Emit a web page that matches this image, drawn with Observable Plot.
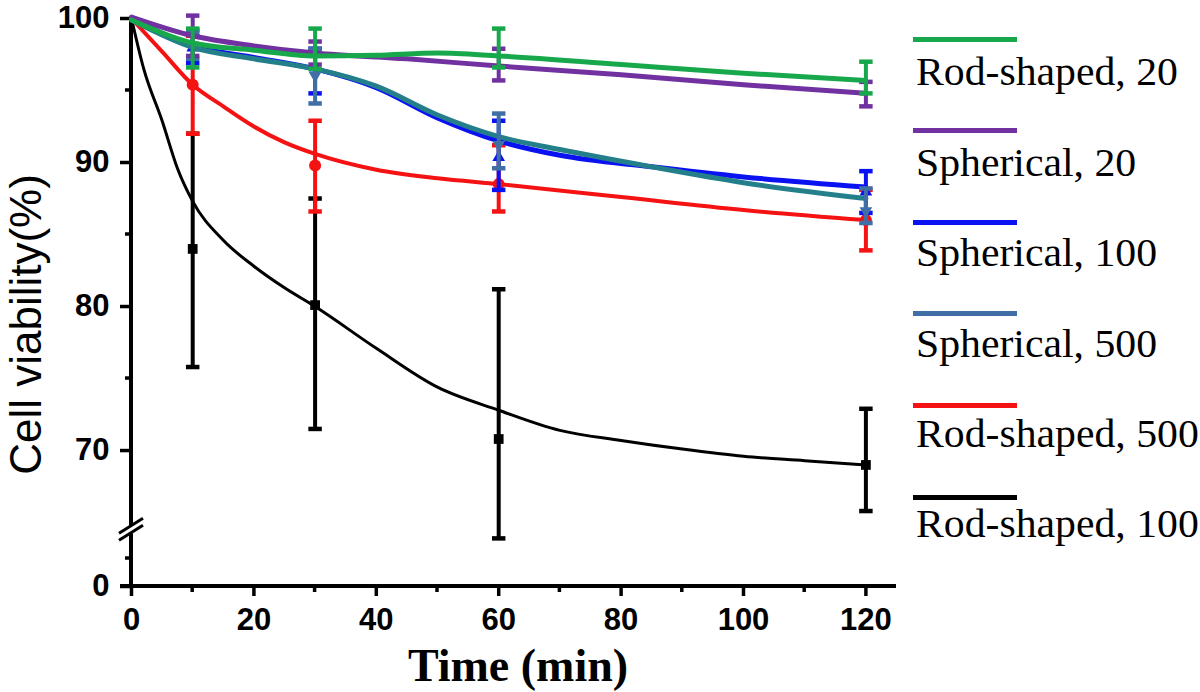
<!DOCTYPE html>
<html>
<head>
<meta charset="utf-8">
<script src="https://cdn.jsdelivr.net/npm/d3@7"></script>
<script src="https://cdn.jsdelivr.net/npm/@observablehq/plot@0.6"></script>
<style>
  html, body { margin: 0; padding: 0; background: #fff; }
  #wrap { position: relative; width: 1200px; height: 692px; overflow: hidden; background: #fff; }
  #chart { position: absolute; left: 0; top: 0; }
  .lg-line { position: absolute; height: 5px; width: 104px; }
  .lg-text { position: absolute; font-family: "Liberation Serif", "Times New Roman", serif; font-size: 39px; line-height: 39px; color: #000; white-space: nowrap; transform: scaleX(1.07); transform-origin: 0 0; }
  #chart svg [aria-label^="x-axis"] line, #chart svg [aria-label^="x-axis"] path,
  #chart svg [aria-label^="y-axis"] line, #chart svg [aria-label^="y-axis"] path { stroke-width: 3.5px; stroke: #000; }
  #chart svg [aria-label^="x-axis"] text, #chart svg [aria-label^="y-axis"] text { font-size: 31px; font-weight: bold; }
</style>
</head>
<body>
<div id="wrap"><div id="chart"></div><div id="legend"></div></div>
<script>
// ---------- data ----------
const seriesNames  = ["Rod-shaped, 20", "Spherical, 20", "Spherical, 100", "Spherical, 500", "Rod-shaped, 500", "Rod-shaped, 100"];
const seriesColors = ["#18a84c", "#7131a0", "#0b12f2", "#3f6fa4", "#f51212", "#000000"];
const lineColors   = ["#18a84c", "#7131a0", "#0b12f2", "#23808a", "#f51212", "#000000"];
const markerShapes = [null, null, "up", "down", "circle", "square"];

const pointTimes = [10, 30, 60, 120];
// mean, low end and high end of error bars (cell viability %)
const rod20Mean  = [98.0, 97.6, 97.6, 95.8];
const rod20Low   = [96.6, 96.5, 96.6, 94.8];
const rod20High  = [99.3, 99.3, 99.3, 97.0];
const sph20Mean  = [98.8, 97.6, 96.8, 94.8];
const sph20Low   = [97.4, 96.8, 95.7, 93.9];
const sph20High  = [100.2, 98.4, 97.9, 95.6];
const sph100Mean = [98.0, 96.6, 90.4, 88.0];
const sph100Low  = [96.9, 94.8, 88.1, 86.5];
const sph100High = [99.2, 97.9, 92.9, 89.4];
const sph500Mean = [98.1, 96.0, 91.2, 86.6];
const sph500Low  = [97.2, 94.1, 89.6, 85.8];
const sph500High = [99.0, 97.9, 93.4, 88.2];
const rod500Mean = [95.4, 89.8, 88.5, 86.0];
const rod500Low  = [92.0, 86.6, 86.6, 83.9];
const rod500High = [98.8, 92.9, 91.2, 88.1];
const rod100Mean = [84.0, 80.1, 70.8, 69.0];
const rod100Low  = [75.8, 71.5, 63.9, 65.8];
const rod100High = [92.0, 87.5, 81.2, 72.9];

// fitted curves
const rod20FitT  = [0, 10, 20, 30, 40, 50, 60, 80, 100, 120];
const rod20FitV  = [99.9, 98.3, 97.8, 97.4, 97.45, 97.6, 97.4, 96.8, 96.2, 95.7];
const sph20FitT  = [0, 10, 20, 30, 45, 60, 80, 100, 120];
const sph20FitV  = [100.1, 98.8, 98.1, 97.6, 97.2, 96.7, 96.1, 95.4, 94.8];
const sph100FitT = [0, 10, 20, 30, 40, 50, 60, 70, 85, 100, 120];
const sph100FitV = [100.0, 98.1, 97.3, 96.5, 95.2, 93.1, 91.5, 90.5, 89.7, 89.0, 88.3];
const sph500FitT = [0, 10, 20, 30, 40, 50, 60, 70, 85, 100, 120];
const sph500FitV = [99.9, 98.0, 97.2, 96.5, 95.3, 93.3, 91.8, 90.9, 89.7, 88.6, 87.5];
const rod500FitT = [0, 5, 10, 15, 20, 25, 30, 40, 50, 60, 80, 100, 120];
const rod500FitV = [100.0, 97.7, 95.4, 93.9, 92.5, 91.4, 90.6, 89.5, 88.9, 88.5, 87.6, 86.7, 86.0];
const rod100FitT = [0, 2, 5, 7.5, 10, 15, 20, 25, 30, 40, 50, 60, 70, 80, 90, 100, 110, 120];
const rod100FitV = [100.0, 96.5, 92.9, 89.6, 87.3, 84.6, 82.8, 81.3, 80.0, 77.1, 74.4, 72.8, 71.4, 70.7, 70.1, 69.6, 69.3, 69.0];

// axes
const xTicks = [0, 20, 40, 60, 80, 100, 120];
const xMinorTicks = [10, 30, 50, 70, 90, 110];
const yTicks = [0, 70, 80, 90, 100];
const yMinorTicks = [5, 75, 85, 95];
const xDomain = [0, 125];
const xLabel = "Time (min)";
const yLabel = "Cell viability(%)";

// broken y axis: segment 0–7 is compressed below the break, 63.5–100 is shown at full scale
const yBreakPieces  = [0, 7, 63.5, 100];
const yBreakDisplay = [60.56, 63.28, 63.5, 100];
const yBreakValue = 64.5;
const brk = d3.scaleLinear().domain(yBreakPieces).range(yBreakDisplay);
const yTickPos = yTicks.map(brk);

// ---------- assemble tables ----------
const means = [rod20Mean, sph20Mean, sph100Mean, sph500Mean, rod500Mean, rod100Mean];
const lows  = [rod20Low, sph20Low, sph100Low, sph500Low, rod500Low, rod100Low];
const highs = [rod20High, sph20High, sph100High, sph500High, rod500High, rod100High];
const fitTs = [rod20FitT, sph20FitT, sph100FitT, sph500FitT, rod500FitT, rod100FitT];
const fitVs = [rod20FitV, sph20FitV, sph100FitV, sph500FitV, rod500FitV, rod100FitV];

const pointRows = [];
seriesNames.forEach((s, i) => pointTimes.forEach((t, j) =>
  pointRows.push({series: s, t, mean: brk(means[i][j]), lo: brk(lows[i][j]), hi: brk(highs[i][j])})));
const fitRows = [];
seriesNames.forEach((s, i) => fitTs[i].forEach((t, j) => fitRows.push({series: s, t, v: brk(fitVs[i][j])})));

// ---------- symbols ----------
const triUp = {draw(ctx, size) { const r = Math.sqrt(size / Math.PI);
  ctx.moveTo(0, -r * 1.25); ctx.lineTo(r * 1.15, r * 0.75); ctx.lineTo(-r * 1.15, r * 0.75); ctx.closePath(); }};
const triDown = {draw(ctx, size) { const r = Math.sqrt(size / Math.PI);
  ctx.moveTo(0, r * 1.25); ctx.lineTo(r * 1.15, -r * 0.75); ctx.lineTo(-r * 1.15, -r * 0.75); ctx.closePath(); }};
const symbolFor = {up: triUp, down: triDown, circle: "circle", square: "square"};

// ---------- decoration marks drawn through the scales ----------
const NS = "http://www.w3.org/2000/svg";
function seg(doc, g, x1, y1, x2, y2, w, stroke) {
  const l = doc.createElementNS(NS, "line");
  l.setAttribute("x1", x1); l.setAttribute("y1", y1);
  l.setAttribute("x2", x2); l.setAttribute("y2", y2);
  l.setAttribute("stroke", stroke || "#000"); l.setAttribute("stroke-width", w);
  g.appendChild(l);
}
function axisLines(index, scales, values, dims, context) {
  const doc = (context && context.document) || document;
  const g = doc.createElementNS(NS, "g");
  const x = scales.x, y = v => scales.y(brk(v));
  seg(doc, g, x(0), y(100) - 1.5, x(0), y(0), 4);
  seg(doc, g, x(0) - 11, y(0), x(xDomain[1]), y(0), 4);
  for (const v of yMinorTicks) seg(doc, g, x(0) - 6, y(v), x(0), y(v), 3.5);
  for (const t of xMinorTicks) seg(doc, g, x(t), y(0), x(t), y(0) + 6, 3.5);
  return g;
}
function axisBreak(index, scales, values, dims, context) {
  const doc = (context && context.document) || document;
  const g = doc.createElementNS(NS, "g");
  const x0 = scales.x(0), yb = scales.y(brk(yBreakValue));
  seg(doc, g, x0, yb - 4, x0, yb + 4, 7, "#fff");
  seg(doc, g, x0 - 12, yb + 4, x0 + 12, yb - 11, 3);
  seg(doc, g, x0 - 12, yb + 11, x0 + 12, yb - 4, 3);
  return g;
}

// ---------- marks ----------
const order = [5, 4, 2, 3, 1, 0]; // draw black first, green last
const marks = [axisLines];
for (const i of order) {
  const s = seriesNames[i];
  const pts = pointRows.filter(d => d.series === s);
  const fit = fitRows.filter(d => d.series === s);
  const col = seriesColors[i];
  const w = i === 5 ? 3 : (i === 4 ? 4 : 5);
  marks.push(Plot.line(fit, {x: "t", y: "v", stroke: lineColors[i], strokeWidth: w, curve: "monotone-x"}));
  marks.push(Plot.ruleX(pts, {x: "t", y1: "lo", y2: "hi", stroke: col, strokeWidth: 4}));
  marks.push(Plot.link(pts, {x1: d => d.t - 1.1, x2: d => d.t + 1.1, y1: "lo", y2: "lo", stroke: col, strokeWidth: 4.5, strokeLinecap: "butt"}));
  marks.push(Plot.link(pts, {x1: d => d.t - 1.1, x2: d => d.t + 1.1, y1: "hi", y2: "hi", stroke: col, strokeWidth: 4.5, strokeLinecap: "butt"}));
  if (markerShapes[i]) {
    const shp = markerShapes[i];
    marks.push(Plot.dot(pts, {x: "t", y: "mean", fill: col, stroke: "none",
      symbol: symbolFor[shp], r: shp === "circle" ? 6 : 5.5}));
  }
}
marks.push(axisBreak);
marks.push(Plot.text([xLabel], {text: d => d, frameAnchor: "bottom", textAnchor: "middle", lineAnchor: "middle", dx: 4, dy: 80,
  fontSize: 46, fontWeight: "bold", fontFamily: '"Liberation Serif", "Times New Roman", serif', fill: "#000"}));
marks.push(Plot.text([yLabel], {text: d => d, frameAnchor: "left", textAnchor: "middle", lineAnchor: "middle", rotate: -90, dx: -105, dy: 22,
  fontSize: 44, fontWeight: "normal", fontFamily: '"Liberation Sans", Arial, sans-serif', fill: "#000"}));

const plot = Plot.plot({
  width: 905, height: 692,
  marginLeft: 131, marginRight: 9, marginTop: 18, marginBottom: 106,
  style: {fontFamily: '"Liberation Sans", Arial, sans-serif', fontSize: "31px", fontWeight: "bold",
          color: "#000", background: "transparent", overflow: "visible"},
  x: {domain: xDomain, ticks: xTicks, tickSize: 10, tickPadding: 11, label: null, tickFormat: d => String(d)},
  y: {domain: [yBreakDisplay[0], 100], ticks: yTickPos, tickSize: 11, tickPadding: 11, label: null,
      tickFormat: u => { const k = yTickPos.findIndex(p => Math.abs(p - u) < 1e-6); return k < 0 ? "" : String(yTicks[k]); }},
  marks
});
document.getElementById("chart").appendChild(plot);

// ---------- legend (right side) ----------
const legend = document.getElementById("legend");
seriesNames.forEach((s, i) => {
  const lineY = 39 + i * 91.6;
  const baseY = 85 + i * 90.4;
  const ln = document.createElement("div");
  ln.className = "lg-line";
  ln.style.left = "913px"; ln.style.top = (lineY - 2.5) + "px"; ln.style.background = seriesColors[i];
  legend.appendChild(ln);
  const tx = document.createElement("div");
  tx.className = "lg-text";
  tx.textContent = s;
  tx.style.left = "916px"; tx.style.top = (baseY - 32.6) + "px";
  legend.appendChild(tx);
});
</script>
</body>
</html>
